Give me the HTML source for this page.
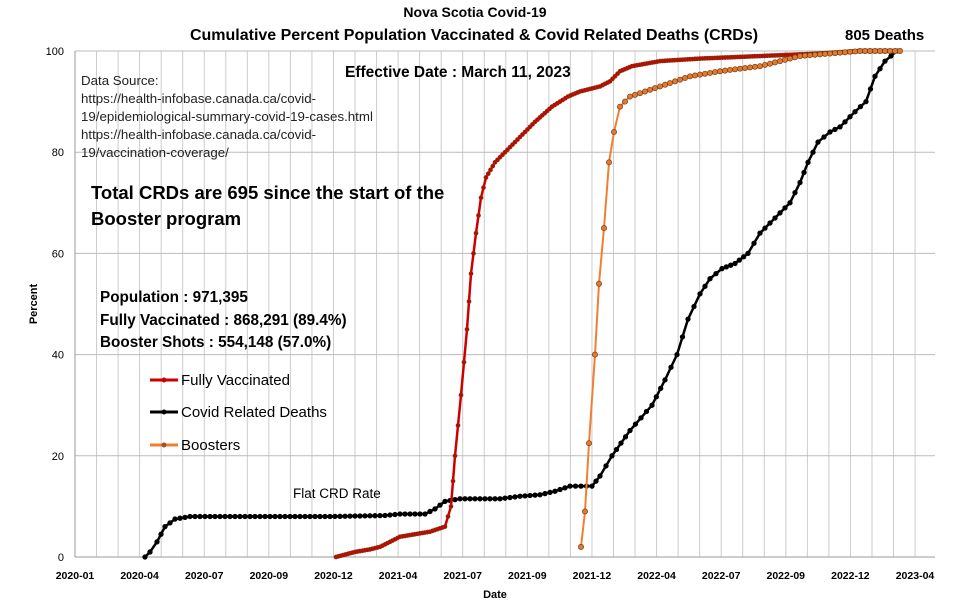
<!DOCTYPE html>
<html><head><meta charset="utf-8"><style>
body{margin:0;background:#fff;}
svg{display:block;font-family:"Liberation Sans",Calibri,sans-serif;}
.b{font-weight:bold;}
</style></head><body>
<svg id="s" width="976" height="614" xmlns="http://www.w3.org/2000/svg">
<g id="grid"></g>
<text x="475" y="17" text-anchor="middle" class="b" font-size="14">Nova Scotia Covid-19</text>
<text x="474" y="40" text-anchor="middle" class="b" font-size="16">Cumulative Percent Population Vaccinated &amp; Covid Related Deaths (CRDs)</text>
<text x="845" y="40" class="b" font-size="15">805 Deaths</text>
<text x="345" y="77" class="b" font-size="15.5">Effective Date : March 11, 2023</text>
<g font-size="13.3" fill="#222">
<text x="81" y="85">Data Source:</text>
<text x="81" y="103">https://health-infobase.canada.ca/covid-</text>
<text x="81" y="121">19/epidemiological-summary-covid-19-cases.html</text>
<text x="81" y="139">https://health-infobase.canada.ca/covid-</text>
<text x="81" y="157">19/vaccination-coverage/</text>
</g>
<text x="91" y="199" class="b" font-size="18.5">Total CRDs are 695 since the start of the</text>
<text x="91" y="225" class="b" font-size="18.5">Booster program</text>
<g class="b" font-size="15.3">
<text x="100" y="302">Population : 971,395</text>
<text x="100" y="325">Fully Vaccinated : 868,291 (89.4%)</text>
<text x="100" y="347">Booster Shots : 554,148 (57.0%)</text>
</g>
<g font-size="15">
<line x1="150" x2="178" y1="380" y2="380" stroke="#c00" stroke-width="3"/><circle cx="164" cy="380" r="2.5" fill="#c00"/>
<text x="181" y="385">Fully Vaccinated</text>
<line x1="150" x2="178" y1="412" y2="412" stroke="#000" stroke-width="3"/><circle cx="164" cy="412" r="2.5" fill="#000"/>
<text x="181" y="417">Covid Related Deaths</text>
<line x1="150" x2="178" y1="445" y2="445" stroke="#f08030" stroke-width="3"/><circle cx="164" cy="445" r="2.5" fill="#a0522d"/>
<text x="181" y="450">Boosters</text>
</g>
<text x="293" y="498" font-size="13.5">Flat CRD Rate</text>
<text transform="translate(37,304) rotate(-90)" text-anchor="middle" font-size="11" class="b">Percent</text>
<text x="495" y="598" text-anchor="middle" font-size="11" class="b">Date</text>
<g id="series"></g>
</svg>
<script>
const L=75,D=21.54,X0=75,R=935,T=51,B=557;
const y=p=>B-p*5.06;
let g='';
for(let k=0;k<=40;k++){const x=X0+k*D;if(x>R+1)break;g+=`<line x1="${x}" x2="${x}" y1="${T}" y2="${B}" stroke="#ccc" stroke-width="1"/>`;}
for(let p=0;p<=100;p+=20){g+=`<line x1="${L}" x2="${R}" y1="${y(p)}" y2="${y(p)}" stroke="#bbb"/>`;g+=`<text x="64" y="${y(p)+4}" text-anchor="end" font-size="11" font-family="Liberation Sans">${p}</text>`;}
g+=`<line x1="${L}" x2="${L}" y1="${T}" y2="${B}" stroke="#999"/><line x1="${L}" x2="${R}" y1="${B}" y2="${B}" stroke="#999"/>`;
const labs=["2020-01","2020-04","2020-07","2020-09","2020-12","2021-04","2021-07","2021-09","2021-12","2022-04","2022-07","2022-09","2022-12","2023-04"];
labs.forEach((t,i)=>{const x=75+i*(840/13);g+=`<text x="${x}" y="579" text-anchor="middle" font-size="10.5" class="b">${t}</text>`;});
document.getElementById('grid').innerHTML=g;
function interp(pts,step){const o=[];for(let i=0;i<pts.length-1;i++){const[a,b]=pts[i],[c,d]=pts[i+1];const n=Math.max(1,Math.round((c-a)/step));for(let j=0;j<n;j++){o.push([a+(c-a)*j/n,b+(d-b)*j/n]);}}o.push(pts[pts.length-1]);return o;}
function series(pts,step,col,mfill,mr,sw){const p=interp(pts,step);let s=`<polyline fill="none" stroke="${col}" stroke-width="${sw}" points="${p.map(q=>q[0]+','+y(q[1])).join(' ')}"/>`;p.forEach(q=>{s+=`<circle cx="${q[0]}" cy="${y(q[1])}" r="${mr}" fill="${mfill}" stroke="${mfill==='#000'?'#000':'#7a3a10'}" stroke-width="0.7"/>`});return s;}
const black=[[145,0],[150,1],[157,3],[165,6],[175,7.5],[190,8],[250,8],[330,8],[385,8.2],[400,8.5],[425,8.5],[435,9.5],[445,11],[460,11.5],[500,11.5],[520,12],[540,12.3],[555,13],[570,14],[592,14],[600,16],[612,20],[630,25],[652,30],[665,35],[677,40],[688,47],[700,52],[710,55],[722,57],[735,58],[748,60],[760,64],[775,67],[790,70],[800,74],[808,78],[818,82],[830,84],[840,85],[855,88],[866,90],[875,95],[885,98],[897,100]];
const red=[[336,0],[355,1],[370,1.5],[380,2],[390,3],[400,4],[415,4.5],[430,5],[445,6],[451,10],[455,20],[461,32],[467,45],[471,56],[476,64],[481,71],[486,75],[495,78],[505,80],[520,83],[535,86],[552,89],[568,91],[580,92],[600,93],[610,94],[620,96],[632,97],[660,98],[700,98.5],[760,99],[820,99.5],[860,100],[897,100]];
const orange=[[581,2],[585,9],[589,22.5],[595,40],[599,54],[604,65],[609,78],[614,84],[620,89],[630,91],[645,92],[660,93],[675,94],[690,95],[720,96],[760,97],[780,98],[800,99],[830,99.5],[860,100],[900,100]];
let s='';
s+=series(black,5,'#000','#000',2.3,2.5);
s+=series(red,2.5,'#c00','#c00',2,2.5);
s+=series(orange,5,'#f08030','#e07a30',2.6,2);
document.getElementById('series').innerHTML=s;
</script>
</body></html>
